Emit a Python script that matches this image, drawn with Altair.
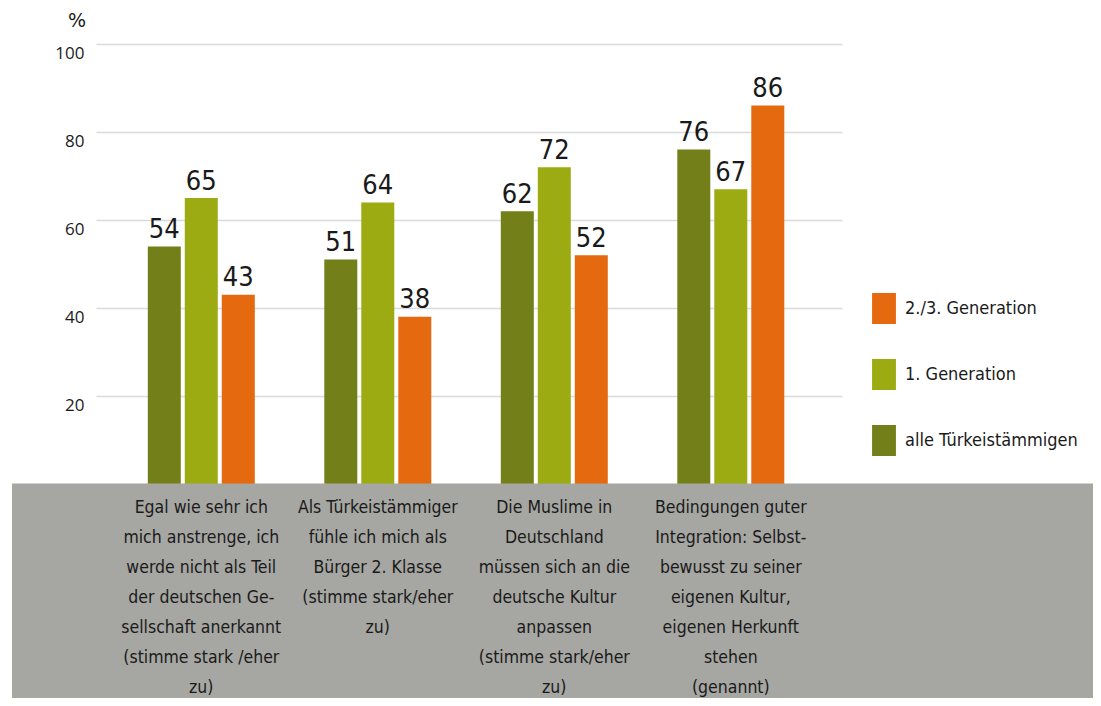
import altair as alt
import pandas as pd

categories = [
    "Egal wie sehr ich\nmich anstrenge, ich\nwerde nicht als Teil\nder deutschen Ge-\nsellschaft anerkannt\n(stimme stark /eher\nzu)",
    "Als Türkeistämmiger\nfühle ich mich als\nBürger 2. Klasse\n(stimme stark/eher\nzu)",
    "Die Muslime in\nDeutschland\nmüssen sich an die\ndeutsche Kultur\nanpassen\n(stimme stark/eher\nzu)",
    "Bedingungen guter\nIntegration: Selbst-\nbewusst zu seiner\neigenen Kultur,\neigenen Herkunft\nstehen\n(genannt)",
]
series = ["alle Türkeistämmigen", "1. Generation", "2./3. Generation"]
alle = [54, 51, 62, 76]
gen1 = [65, 64, 72, 67]
gen23 = [43, 38, 52, 86]
y_ticks = [20, 40, 60, 80, 100]

colors = {"alle Türkeistämmigen": "#73801a", "1. Generation": "#9cab12", "2./3. Generation": "#e5690f"}
legend_order = ["2./3. Generation", "1. Generation", "alle Türkeistämmigen"]

rows = []
for i, c in enumerate(categories):
    for s, vals in zip(series, [alle, gen1, gen23]):
        rows.append({"cat": c, "series": s, "value": vals[i]})
df = pd.DataFrame(rows)
cat_df = pd.DataFrame({"cat": categories})

NARROW = "DejaVu Sans Condensed, Roboto, sans-serif"
TXT = "#1a1a1a"

x_enc = alt.X("cat:N", axis=None,
              scale=alt.Scale(domain=categories, paddingInner=0.3938, paddingOuter=0.3102, align=0.473))
xoff_enc = alt.XOffset("series:N", scale=alt.Scale(domain=series, paddingInner=0.108, paddingOuter=0))
y_enc = alt.Y("value:Q", scale=alt.Scale(domain=[0, 100]),
              axis=alt.Axis(values=y_ticks, title=None, grid=True, gridColor="#dadada", gridWidth=1.5,
                            domain=False, ticks=False, labelPadding=12, labelOffset=9,
                            labelFont="Open Sans", labelFontSize=17, labelColor=TXT))

bars = alt.Chart(df).mark_bar().encode(
    x=x_enc,
    xOffset=xoff_enc,
    y=y_enc,
    color=alt.Color("series:N",
                    scale=alt.Scale(domain=legend_order, range=[colors[s] for s in legend_order]),
                    legend=alt.Legend(orient="none", legendX=772.5, legendY=249, title=None,
                                      symbolType="M-0.77,-1H0.77V1H-0.77Z", symbolSize=961,
                                      symbolStrokeWidth=0, symbolOpacity=1,
                                      labelFont=NARROW, labelFontSize=18, labelColor=TXT,
                                      labelLimit=300,
                                      rowPadding=35, labelOffset=5.5, padding=0)),
)

values = alt.Chart(df).mark_text(baseline="alphabetic", dy=-8.5, fontSize=27, font=NARROW, color=TXT).encode(
    x=x_enc, xOffset=xoff_enc, y=alt.Y("value:Q"), text=alt.Text("value:Q"),
)

band = alt.Chart(pd.DataFrame({"a": [0]})).mark_rect(color="#a6a6a2").encode(
    x=alt.value(-84), x2=alt.value(1000), y=alt.value(439.5), y2=alt.value(700),
)

labels = alt.Chart(cat_df).mark_text(baseline="alphabetic", align="center", fontSize=17.5, font=NARROW,
                                     color=TXT, lineBreak="\n", lineHeight=30).encode(
    x=x_enc, y=alt.value(468.5), text="cat:N",
)

pct = alt.Chart(pd.DataFrame({"a": [0]})).mark_text(fontSize=19, font="DejaVu Sans", color=TXT,
                                                     align="center", baseline="alphabetic").encode(
    x=alt.value(-19), y=alt.value(-17.5), text=alt.value("%"),
)

chart = alt.layer(bars, values, band, labels, pct).properties(
    width=746, height=440,
    autosize=alt.AutoSizeParams(type="none"),
    padding={"left": 88, "top": 36, "right": 251, "bottom": 214},
    background="white",
).configure_view(stroke=None)

chart.save("out.html", embed_options={"renderer": "svg", "actions": False})
